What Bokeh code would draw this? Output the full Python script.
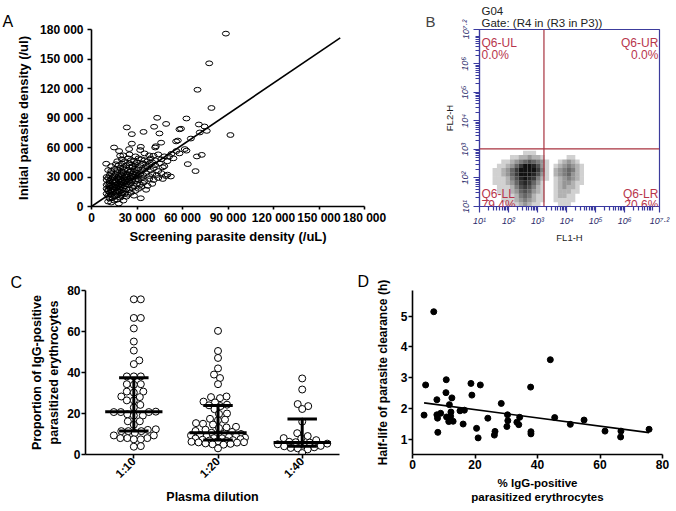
import math
from bokeh.plotting import figure
from bokeh.layouts import row, column
from bokeh.models import Range1d, FixedTicker, Label, Span
from bokeh.embed import file_html
from bokeh.resources import INLINE

FONT = "Liberation Sans"

# ---------------- Panel A data (thousands per uL) ----------------
a_pairs_k = [
    (88.6, 175.8), (77.6, 145.6), (69.9, 118.7), (79.1, 100.2), (91.6, 72.7), (62.6, 89.5),
    (43.3, 90.2), (49.2, 84.0), (70.8, 83.4), (74.5, 81.4), (23.3, 80.4), (41.3, 81.1),
    (58.0, 78.5), (59.0, 79.1), (71.4, 75.3), (76.0, 76.9), (34.3, 75.9), (44.8, 74.3),
    (26.6, 73.6), (65.5, 69.1), (55.8, 66.2), (56.9, 67.1), (45.9, 64.9), (26.6, 63.9),
    (14.9, 60.0), (32.5, 60.7), (42.4, 61.3), (42.0, 60.0), (61.5, 58.4), (62.6, 56.8),
    (24.8, 58.4), (32.1, 57.4), (56.0, 56.4), (18.2, 56.4), (52.7, 53.5), (51.2, 50.9),
    (69.5, 50.9), (72.7, 52.5), (40.9, 51.6), (18.9, 51.6), (63.5, 43.1), (9.7, 43.5),
    (47.0, 39.9), (68.6, 36.0), (50.1, 32.4), (52.3, 30.5), (32.5, 8.4),
    (11, 5), (12, 8), (13, 4), (14, 9), (15, 6), (17, 7), (18, 3), (19, 9), (21, 6), (23, 10), (16, 11), (20, 12),
    (10, 13), (11, 11), (12, 14), (13, 12), (14, 15), (15, 10), (16, 14), (17, 12), (18, 15), (19, 11), (20, 14),
    (22, 13), (24, 12), (26, 14), (28, 11), (11, 16),
    (10, 18), (11, 17), (12, 19), (13, 16), (14, 18), (15, 17), (16, 19), (17, 16), (18, 18), (19, 20), (20, 17),
    (21, 19), (22, 16), (23, 18), (25, 17), (27, 19), (29, 16), (31, 18), (33, 20), (36, 17), (12, 21),
    (10, 22), (11, 23), (12, 24), (13, 22), (14, 21), (15, 24), (16, 22), (17, 23), (18, 21), (19, 25), (20, 22),
    (21, 24), (22, 21), (23, 23), (24, 25), (25, 22), (26, 24), (28, 21), (30, 23), (32, 22), (34, 24), (37, 21),
    (40, 23), (15, 20), (17, 20), (19, 23),
    (10, 27), (11, 29), (12, 26), (13, 28), (14, 30), (15, 27), (16, 26), (17, 29), (18, 27), (19, 28), (20, 26),
    (21, 29), (22, 27), (23, 30), (24, 28), (25, 26), (26, 29), (27, 27), (28, 30), (29, 26), (30, 28), (31, 27),
    (33, 29), (35, 26), (38, 28), (41, 27), (44, 29), (47, 28), (14, 25), (18, 29), (22, 25),
    (10, 30), (12, 32), (13, 34), (15, 31), (16, 33), (17, 35), (18, 31), (20, 32), (21, 34), (22, 31), (24, 33),
    (25, 35), (26, 31), (27, 33), (28, 35), (29, 32), (30, 34), (31, 31), (32, 33), (34, 32), (36, 34), (38, 31),
    (40, 33), (43, 32), (46, 34), (49, 31), (19, 33), (23, 32),
    (11, 37), (13, 36), (15, 38), (17, 37), (19, 39), (20, 36), (22, 38), (24, 37), (25, 40), (26, 36), (28, 38),
    (30, 37), (31, 39), (33, 36), (35, 38), (37, 40), (39, 37), (41, 39), (44, 36), (21, 40), (27, 40),
    (13, 41), (16, 43), (18, 42), (20, 44), (23, 42), (25, 44), (27, 41), (29, 43), (30, 45), (32, 42), (34, 44),
    (36, 41), (38, 43), (40, 45), (42, 42), (45, 44), (48, 41), (35, 47),
    (17, 46), (20, 48), (22, 46), (24, 49), (26, 47), (28, 46), (31, 49), (33, 48), (37, 46), (39, 49), (42, 47),
    (46, 48), (50, 46), (54, 49),
    (21, 52), (25, 53), (29, 51), (35, 54), (38, 52), (44, 53), (48, 51), (58, 54),
]
a_screen = [p[0] * 1000 for p in a_pairs_k]
a_initial = [p[1] * 1000 for p in a_pairs_k]
a_ticks = [0, 30000, 60000, 90000, 120000, 150000, 180000]
a_tick_labels = ["0", "30 000", "60 000", "90 000", "120 000", "150 000", "180 000"]
a_fit_slope = 1.046
a_fit_end = 164000

# ---------------- Panel B data (log10 fluorescence) ----------------
b_gate_x = 3.22
b_gate_y = 3.02
b_quadrants = ["Q6-UL", "Q6-UR", "Q6-LL", "Q6-LR"]
b_percent = ["0.0%", "0.0%", "79.4%", "20.6%"]
b_ticks = [1, 2, 3, 4, 5, 6, 7.2]
b_tick_labels = ["10\u00b9", "10\u00b2", "10\u00b3", "10\u2074", "10\u2075", "10\u2076", "10\u2077\u00b7\u00b2"]
b_bin = 0.15
b_density_rows = [  # top row (log y 2.95) down to bottom row (log y 1.00); columns from log x 1.00
    "000000000000000000000000",
    "000000000011100000000000",
    "000000011223221000001100",
    "000001123456543100123210",
    "000011235799863101234321",
    "000112357999974102345421",
    "000112357999863102345321",
    "000111246898742101234321",
    "000111235787531001233211",
    "000011124676421001232210",
    "000011123565321001222110",
    "000001112454211001221100",
    "000001112343211001111100",
    "000000111232110000111000",
]

# ---------------- Panel C data (% IgG-positive) ----------------
c_groups = ["1:10", "1:20", "1:40"]
c_1_10 = [75.7, 75.7, 66.6, 66.6, 61.5, 55.1, 50.7, 45.9, 44.1, 38.1, 38.1, 38.1, 34.3, 34.3, 34.0, 30.7,
          30.7, 30.2, 28.3, 28.0, 26.4, 26.4, 24.2, 22.9, 20.7, 20.7, 20.7, 20.9, 19.6, 19.0, 19.0, 16.2,
          16.2, 14.5, 12.3, 12.0, 11.4, 11.4, 11.4, 10.5, 9.3, 9.3, 8.0, 8.0, 8.0, 7.4, 7.4, 4.1, 3.8]
c_1_20 = [60.3, 50.5, 47.1, 42.0, 39.0, 37.3, 34.3, 28.3, 28.0, 27.5, 25.8, 25.4, 24.0, 23.6, 24.3, 22.1,
          20.0, 19.8, 17.0, 16.7, 17.4, 15.0, 14.6, 15.3, 13.2, 12.9, 13.5, 12.1, 11.5, 11.0, 10.6, 10.2,
          9.8, 10.0, 9.5, 9.0, 8.8, 9.3, 8.6, 8.0, 7.8, 8.2, 7.5, 7.9, 7.0, 6.8, 7.2, 6.5, 6.6, 6.0, 5.8,
          6.2, 5.9, 5.2, 5.0, 5.4, 4.8, 3.0]
c_1_40 = [37.1, 31.7, 24.6, 23.6, 22.2, 16.0, 10.4, 9.0, 8.0, 7.8, 7.0, 6.0, 6.2, 5.8, 5.0, 5.3, 4.8,
          4.0, 4.2, 3.5, 3.0, 3.2, 2.5, 0.7]
c_median = [20.8, 10.6, 5.8]
c_q1 = [11.5, 7.1, 4.0]
c_q3 = [37.5, 23.9, 17.3]

# ---------------- Panel D data ----------------
d_pct = [3.7, 4.2, 6.8, 7.8, 7.8, 8.0, 8.1, 9.0, 10.8, 10.7, 10.9, 11.6, 11.8, 12.6, 12.3, 12.2, 13.0,
         15.2, 16.6, 16.2, 18.7, 19.0, 21.7, 20.5, 21.0, 24.1, 26.4, 26.2, 28.4, 30.4, 30.5, 30.2, 33.4,
         34.3, 34.0, 37.8, 37.9, 37.9, 44.1, 45.5, 50.5, 54.9, 61.6, 66.7, 66.6, 75.7]
d_half = [1.78, 2.76, 5.14, 2.28, 1.79, 1.68, 1.22, 1.84, 2.93, 2.51, 1.72, 1.57, 2.12, 2.34, 1.88, 1.74,
          1.58, 1.92, 1.94, 1.49, 2.81, 2.43, 2.76, 1.35, 1.04, 1.68, 1.25, 1.13, 2.16, 1.79, 1.60, 1.41,
          1.55, 1.71, 1.47, 2.69, 1.24, 1.17, 3.58, 1.70, 1.48, 1.62, 1.26, 1.26, 1.07, 1.32]
d_fit_intercept = 2.227
d_fit_slope = -0.01344


def base_fig(w, h, xr, yr, l, r, t, b, title=""):
    p = figure(width=w, height=h, x_range=Range1d(*xr), y_range=Range1d(*yr), title=title,
               output_backend="svg", toolbar_location=None,
               min_border_left=l, min_border_right=r, min_border_top=t, min_border_bottom=b)
    p.grid.visible = False
    p.outline_line_color = None
    p.background_fill_color = "white"
    p.border_fill_color = "white"
    p.title.text_font = FONT
    p.title.text_font_style = "normal"
    p.title.text_font_size = "16px"
    p.title.text_color = "black"
    p.title.align = "left"
    p.title.standoff = 0
    return p


def style_axis(ax, size="12px", lsize="13px"):
    ax.axis_line_width = 1.6
    ax.axis_line_color = "black"
    ax.major_tick_line_width = 1.6
    ax.major_tick_line_color = "black"
    ax.major_tick_out = 4
    ax.major_tick_in = 0
    ax.minor_tick_line_color = None
    ax.major_label_text_font = FONT
    ax.major_label_text_font_style = "bold"
    ax.major_label_text_font_size = size
    ax.major_label_text_color = "black"
    ax.major_label_standoff = 2
    ax.axis_label_text_font = FONT
    ax.axis_label_text_font_style = "bold"
    ax.axis_label_text_font_size = lsize
    ax.axis_label_text_color = "black"


# ---------------- Panel A ----------------
pA = base_fig(420, 250, (0, 180000), (0, 180000), 91, 56, 21, 44, title="A")
pA.title.offset = -89
pA.ellipse(a_screen, a_initial, width=4615, height=4865, fill_color=None,
           line_color="black", line_width=1)
pA.line([0, a_fit_end], [0, a_fit_end * a_fit_slope], line_color="black", line_width=1.6)
for ax in (pA.xaxis[0], pA.yaxis[0]):
    style_axis(ax)
    ax.ticker = FixedTicker(ticks=a_ticks)
    ax.major_label_overrides = {t: l for t, l in zip(a_ticks, a_tick_labels)}
pA.xaxis[0].major_tick_out = 3
pA.xaxis[0].major_label_standoff = 1
pA.xaxis[0].axis_label = "Screening parasite density (/uL)"
pA.xaxis[0].axis_label_standoff = 1
pA.yaxis[0].major_label_standoff = 4
pA.yaxis[0].axis_label = "Initial parasite density (/ul)"
pA.yaxis[0].axis_label_standoff = 6

# ---------------- spacer carrying panel letter B ----------------
sp = figure(width=20, height=250, x_range=Range1d(0, 1), y_range=Range1d(0, 1), title="B",
            x_axis_location=None, y_axis_location=None, output_backend="svg", toolbar_location=None,
            min_border_left=0, min_border_right=0, min_border_top=26, min_border_bottom=0)
sp.grid.visible = False
sp.outline_line_color = None
sp.title.text_font = FONT
sp.title.text_font_style = "normal"
sp.title.text_font_size = "15px"
sp.title.align = "left"
sp.title.offset = 5
sp.title.standoff = 0

# ---------------- Panel B ----------------
pB = base_fig(236, 250, (1, 7.2), (1, 7.2), 35, 17, 29, 38, title="G04\nGate: (R4 in (R3 in P3))")
pB.title.text_font_size = "11.5px"
pB.title.text_color = "#222222"
pB.title.offset = 2
pB.title.standoff = 1
pB.outline_line_color = "#3c3c9c"
pB.outline_line_width = 1.2
lefts, rights, bottoms, tops, alphas = [], [], [], [], []
nrows = len(b_density_rows)
for i, rowstr in enumerate(b_density_rows):
    y0 = 1.0 + b_bin * (nrows - 1 - i)
    for j, ch in enumerate(rowstr):
        d = int(ch)
        if d == 0:
            continue
        x0 = 1.0 + b_bin * j
        lefts.append(x0); rights.append(x0 + b_bin)
        bottoms.append(y0); tops.append(y0 + b_bin)
        alphas.append(min(1.0, 0.97 * (d / 9.0) ** 0.75))
pB.quad(left=lefts, right=rights, bottom=bottoms, top=tops, fill_color="#0a0a0a",
        fill_alpha=alphas, line_color=None)
qcol = "#a8323f"
pB.add_layout(Span(location=b_gate_x, dimension="height", line_color=qcol, line_width=1.2))
pB.add_layout(Span(location=b_gate_y, dimension="width", line_color=qcol, line_width=1.2))
tcol = "#b8364c"
qx = [1.07, 7.16, 1.07, 7.16]
qalign = ["left", "right", "left", "right"]
qy_name = [6.72, 6.72, 1.43, 1.43]
qy_pct = [6.31, 6.31, 1.06, 1.06]
for k in range(4):
    pB.add_layout(Label(x=qx[k], y=qy_name[k], text=b_quadrants[k], text_align=qalign[k],
                        text_baseline="alphabetic", text_font=FONT, text_font_size="12px", text_color=tcol))
    pB.add_layout(Label(x=qx[k], y=qy_pct[k], text=b_percent[k], text_align=qalign[k],
                        text_baseline="alphabetic", text_font=FONT, text_font_size="12px", text_color=tcol))
minor = []
for dexp in range(1, 8):
    for k in range(2, 10):
        v = dexp + math.log10(k)
        if v < 7.2:
            minor.append(v)
bcol = "#3a3aa0"
for ax in (pB.xaxis[0], pB.yaxis[0]):
    ax.ticker = FixedTicker(ticks=b_ticks, minor_ticks=minor)
    ax.major_label_overrides = {t: l for t, l in zip(b_ticks, b_tick_labels)}
    ax.axis_line_color = bcol
    ax.axis_line_width = 1.2
    ax.major_tick_line_color = bcol
    ax.minor_tick_line_color = bcol
    ax.major_tick_line_width = 1.2
    ax.minor_tick_line_width = 1.2
    ax.major_tick_in = 0
    ax.major_tick_out = 6
    ax.minor_tick_in = 0
    ax.minor_tick_out = 4
    ax.major_label_text_font = FONT
    ax.major_label_text_font_style = "italic"
    ax.major_label_text_font_size = "9px"
    ax.major_label_text_color = "#2a2a6a"
    ax.major_label_standoff = 3
    ax.axis_label_text_font = FONT
    ax.axis_label_text_font_style = "normal"
    ax.axis_label_text_font_size = "9.5px"
    ax.axis_label_text_color = "#222222"
pB.yaxis[0].major_label_orientation = "vertical"
pB.xaxis[0].axis_label = "FL1-H"
pB.yaxis[0].axis_label = "FL2-H"
pB.xaxis[0].axis_label_standoff = 3
pB.yaxis[0].axis_label_standoff = 3

# ---------------- Panel C ----------------
pC = base_fig(355, 260, (0.426, 3.443), (0, 80), 85, 16, 40, 51, title="C")
pC.title.offset = -75
px_x = 254 / (3.443 - 0.426)
px_y = 169 / 80.0


def swarm(vals, center, diam=6.6, max_off=27.0):
    placed = []
    res = [0.0] * len(vals)
    order = sorted(range(len(vals)), key=lambda i: vals[i])
    cands = [0.0]
    j = 1
    while j * 0.5 <= max_off:
        cands += [j * 0.5, -j * 0.5]
        j += 1
    for i in order:
        yp = vals[i] * px_y
        best, best_d = 0.0, -1.0
        chosen = None
        for off in cands:
            md = min([math.hypot(off - ox, yp - oy) for (ox, oy) in placed] or [99.0])
            if md >= diam:
                chosen = off
                break
            if md > best_d:
                best, best_d = off, md
        if chosen is None:
            chosen = best
        placed.append((chosen, yp))
        res[i] = center + chosen / px_x
    return res


for gi, vals in enumerate([c_1_10, c_1_20, c_1_40]):
    cx = gi + 1
    xs = swarm(vals, cx)
    pC.scatter(xs, vals, size=7, marker="circle", fill_color="white", line_color="black", line_width=1)
for gi in range(3):
    cx = gi + 1
    pC.segment([cx], [c_q1[gi]], [cx], [c_q3[gi]], line_color="black", line_width=3)
    pC.segment([cx - 0.34], [c_median[gi]], [cx + 0.34], [c_median[gi]], line_color="black", line_width=3)
    pC.segment([cx - 0.175], [c_q1[gi]], [cx + 0.175], [c_q1[gi]], line_color="black", line_width=3)
    pC.segment([cx - 0.175], [c_q3[gi]], [cx + 0.175], [c_q3[gi]], line_color="black", line_width=3)
for ax in (pC.xaxis[0], pC.yaxis[0]):
    style_axis(ax, size="12px", lsize="12.5px")
pC.yaxis[0].ticker = FixedTicker(ticks=[0, 20, 40, 60, 80])
pC.yaxis[0].major_label_standoff = 1
pC.xaxis[0].ticker = FixedTicker(ticks=[1, 2, 3])
pC.xaxis[0].major_label_overrides = {i + 1: g for i, g in enumerate(c_groups)}
pC.xaxis[0].major_label_orientation = math.pi / 4
pC.xaxis[0].major_label_text_font_size = "11.5px"
pC.xaxis[0].major_label_standoff = 1
pC.xaxis[0].axis_label = "Plasma dilution"
pC.xaxis[0].axis_label_standoff = 3
pC.yaxis[0].axis_label = "Proportion of IgG-positive\nparasitized erythrocytes"
pC.yaxis[0].axis_label_standoff = 3

# ---------------- Panel D ----------------
pD = base_fig(321, 260, (0, 80), (0.5, 5.83), 57, 14, 39, 56, title="D")
pD.title.offset = -55
pD.title.standoff = 1
pD.scatter(d_pct, d_half, size=6, marker="circle", fill_color="black", line_color="black")
xmin, xmax = min(d_pct), max(d_pct)
pD.line([xmin, xmax], [d_fit_intercept + d_fit_slope * xmin, d_fit_intercept + d_fit_slope * xmax],
        line_color="black", line_width=1.6)
for ax in (pD.xaxis[0], pD.yaxis[0]):
    style_axis(ax, size="12px", lsize="12px")
    ax.major_label_standoff = 1
pD.xaxis[0].ticker = FixedTicker(ticks=[0, 20, 40, 60, 80])
pD.yaxis[0].ticker = FixedTicker(ticks=[1, 2, 3, 4, 5])
pD.xaxis[0].axis_label = "% IgG-positive\nparasitized erythrocytes"
pD.xaxis[0].axis_label_standoff = 5
pD.xaxis[0].axis_label_text_font_size = "11.5px"
pD.yaxis[0].axis_label = "Half-life of parasite clearance (h)"
pD.yaxis[0].axis_label_standoff = 8

layout = column(row(pA, sp, pB), row(pC, pD))
open("out.html", "w").write(file_html(layout, INLINE))
